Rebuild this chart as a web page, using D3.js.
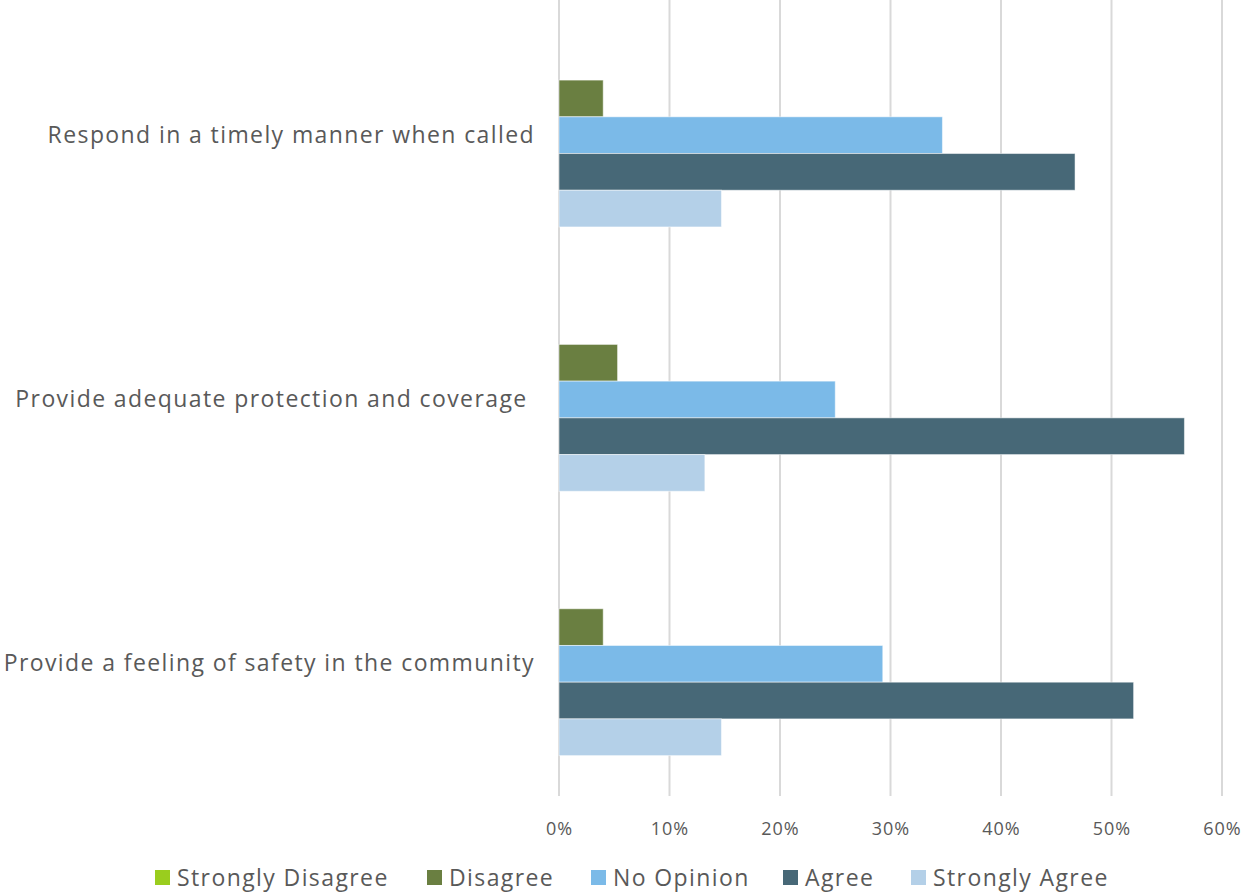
<!DOCTYPE html>
<html><head><meta charset="utf-8">
<script src="https://cdn.jsdelivr.net/npm/d3@7"></script>
<style>body{margin:0;background:#fff;} svg{display:block;} text{font-family:"Open Sans",sans-serif;fill:#595959;white-space:pre;}</style>
</head><body><svg id="c" width="1255" height="894"></svg>
<script>
const categories = ["Respond in a timely manner when called","Provide adequate protection and coverage ","Provide a feeling of safety in the community"];
const seriesNames = ["Strongly Disagree","Disagree","No Opinion","Agree","Strongly Agree"];
const seriesColors = ["#9acd1e","#6a7f41","#7bbae8","#476877","#b4d0e8"];
const stronglyDisagree = [0, 0, 0];
const disagree = [4.0, 5.3, 4.0];
const noOpinion = [34.7, 25.0, 29.3];
const agree = [46.7, 56.6, 52.0];
const stronglyAgree = [14.7, 13.2, 14.7];
const xTicks = [0,10,20,30,40,50,60];
const seriesValues = [stronglyDisagree, disagree, noOpinion, agree, stronglyAgree];

const svg = d3.select("#c");
const pLeft = 559, pRight = 1222, pTop = 3, pBottom = 796;
const x = d3.scaleLinear().domain([0,60]).range([pLeft,pRight]);
const y = d3.scaleBand().domain(categories).range([pTop,pBottom]).paddingInner(0).paddingOuter(0);
const inner = d3.scaleBand().domain(seriesNames).range([0,y.bandwidth()]).paddingOuter(1.1).paddingInner(0);

// gridlines
svg.append("g").selectAll("line").data(xTicks).join("line")
  .attr("x1",d=>x(d)).attr("x2",d=>x(d)).attr("y1",0).attr("y2",pBottom)
  .attr("stroke","#d9d9d9").attr("stroke-width",2);

// bars
categories.forEach((c,ci)=>{
  seriesNames.forEach((s,si)=>{
    const v = seriesValues[si][ci];
    if (v<=0) return;
    svg.append("rect")
      .attr("x",x(0)).attr("y",y(c)+inner(s))
      .attr("width",x(v)-x(0)).attr("height",inner.bandwidth())
      .attr("fill",seriesColors[si]).attr("stroke","#ffffff").attr("stroke-opacity",0.5).attr("stroke-width",1);
  });
});

// x axis labels
const xAxis = d3.axisBottom(x).tickValues(xTicks).tickFormat(d=>d+"%").tickSize(0);
const gx = svg.append("g").attr("transform",`translate(0,${pBottom+23})`).call(xAxis);
gx.select(".domain").remove();
gx.selectAll("text").style("font-size","18px").style("letter-spacing","1px").style("fill","#595959").style("font-family","Open Sans, sans-serif");

// category labels
const yAxis = d3.axisLeft(y).tickSize(0).tickPadding(0);
const gy = svg.append("g").attr("transform",`translate(535,0)`).call(yAxis);
gy.select(".domain").remove();
gy.selectAll("text").style("font-size","23px").style("letter-spacing","1.4px").style("fill","#595959").style("font-family","Open Sans, sans-serif");

// legend
const legendX = [155, 427, 591, 783, 911];
const lg = svg.append("g");
seriesNames.forEach((s,i)=>{
  lg.append("rect").attr("x",legendX[i]).attr("y",870).attr("width",15).attr("height",15).attr("fill",seriesColors[i]);
  lg.append("text").attr("x",legendX[i]+22).attr("y",886).text(s).style("font-size","23px").style("letter-spacing","1.4px");
});
</script></body></html>
